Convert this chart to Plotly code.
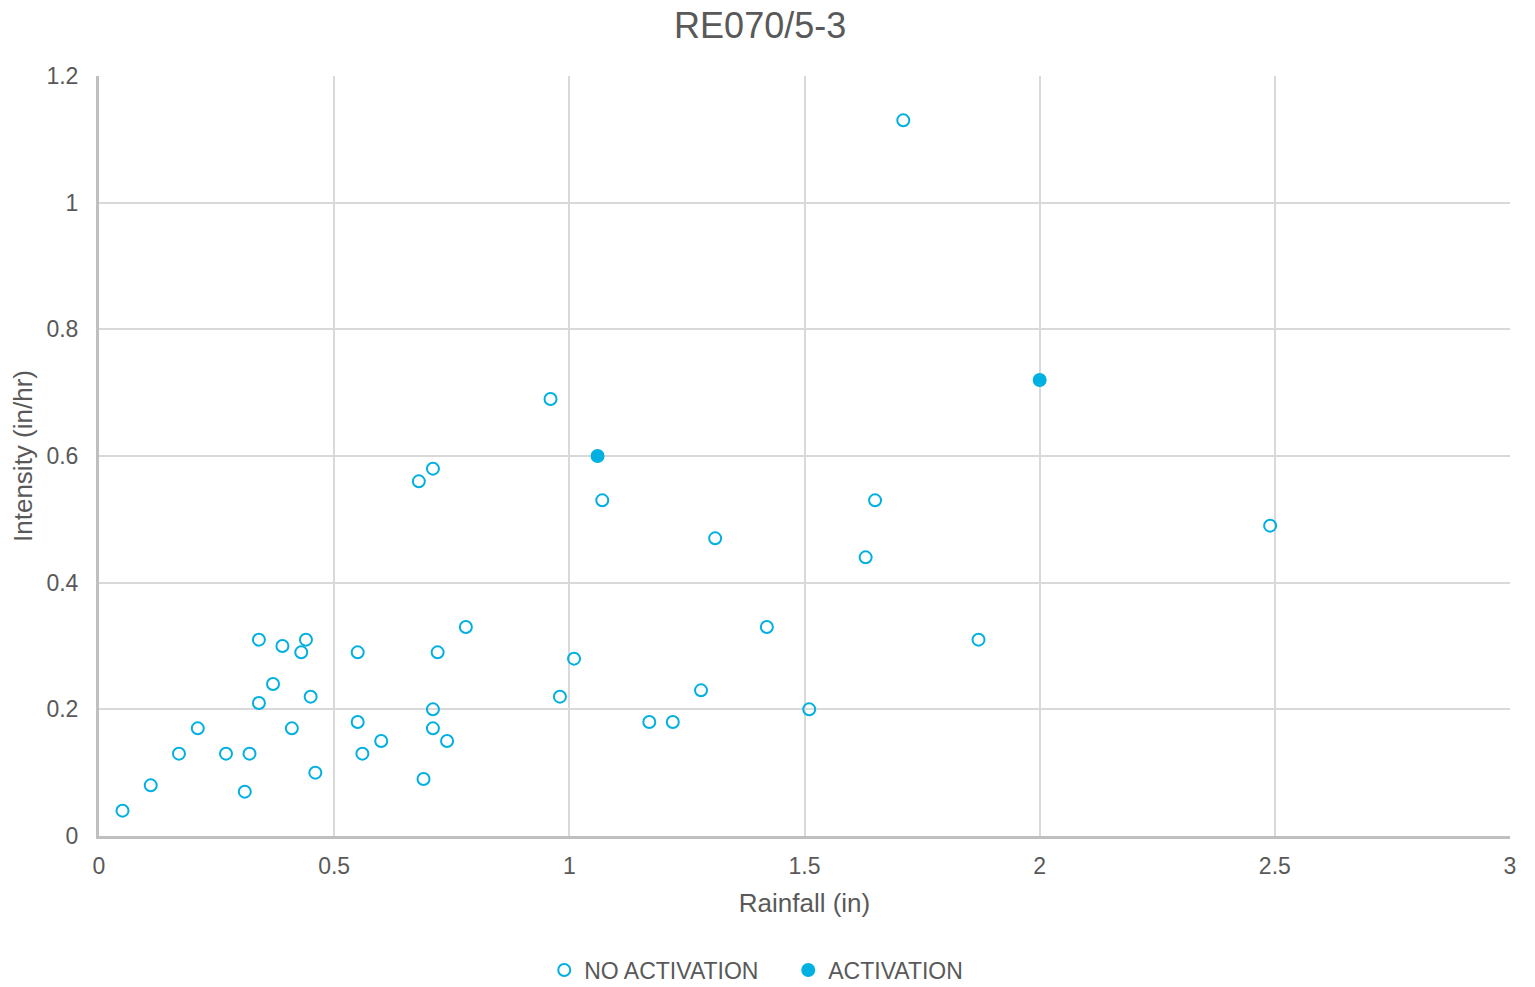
import plotly.graph_objects as go

no_act_rain = [0.05, 0.11, 0.17, 0.21, 0.27, 0.31, 0.32, 0.34, 0.34, 0.37, 0.39, 0.41, 0.43, 0.44, 0.45, 0.46,
               0.55, 0.55, 0.56, 0.60, 0.68, 0.69, 0.71, 0.71, 0.71, 0.72, 0.74, 0.78, 0.96, 0.98, 1.01, 1.07,
               1.17, 1.22, 1.28, 1.31, 1.42, 1.51, 1.63, 1.65, 1.71, 1.87, 2.49]
no_act_int = [0.04, 0.08, 0.13, 0.17, 0.13, 0.07, 0.13, 0.31, 0.21, 0.24, 0.30, 0.17, 0.29, 0.31, 0.22, 0.10,
              0.29, 0.18, 0.13, 0.15, 0.56, 0.09, 0.58, 0.20, 0.17, 0.29, 0.15, 0.33, 0.69, 0.22, 0.28, 0.53,
              0.18, 0.18, 0.23, 0.47, 0.33, 0.20, 0.44, 0.53, 1.13, 0.31, 0.49]
act_rain = [1.06, 2.00]
act_int = [0.60, 0.72]

x_ticks = [0, 0.5, 1, 1.5, 2, 2.5, 3]
y_ticks = [0, 0.2, 0.4, 0.6, 0.8, 1, 1.2]

blue = "#00B0E0"
grey_text = "#595959"
font_family = "Liberation Sans, Arial, sans-serif"

fig = go.Figure()
fig.add_trace(go.Scatter(
    x=no_act_rain, y=no_act_int, mode="markers", name="NO ACTIVATION",
    marker=dict(symbol="circle-open", size=12, color=blue, line=dict(width=2, color=blue)),
))
fig.add_trace(go.Scatter(
    x=act_rain, y=act_int, mode="markers", name="ACTIVATION",
    marker=dict(symbol="circle", size=14, color=blue, line=dict(width=0)),
))

fig.update_layout(
    width=1535, height=987,
    paper_bgcolor="white", plot_bgcolor="white",
    margin=dict(l=91, r=33, t=68, b=159, autoexpand=False),
    font=dict(family=font_family, color=grey_text, size=23),
    title=dict(text="RE070/5-3", x=0.49, xanchor="center", y=0.982, yanchor="middle",
               font=dict(size=36, color=grey_text, family=font_family)),
    showlegend=True,
    legend=dict(orientation="h", xref="container", x=0.5083, xanchor="center",
                yref="container", y=0.0253, yanchor="middle",
                font=dict(size=23, color=grey_text), itemwidth=30,
                entrywidth=199, entrywidthmode="pixels"),
    xaxis=dict(
        range=[0, 3], tickvals=x_ticks, ticktext=[str(v) for v in x_ticks],
        showgrid=True, gridcolor="#D9D9D9", gridwidth=2,
        showline=True, linecolor="#BFBFBF", linewidth=3,
        zeroline=False, ticks="outside", ticklen=7, tickcolor="rgba(0,0,0,0)",
        tickfont=dict(size=23, color=grey_text), automargin=False,
        title=dict(text="Rainfall (in)", font=dict(size=26, color=grey_text), standoff=17),
    ),
    yaxis=dict(
        range=[0, 1.2], tickvals=y_ticks, ticktext=[str(v) for v in y_ticks],
        showgrid=True, gridcolor="#D9D9D9", gridwidth=2,
        showline=True, linecolor="#BFBFBF", linewidth=3,
        zeroline=False, ticks="outside", ticklen=13, tickcolor="rgba(0,0,0,0)",
        tickfont=dict(size=23, color=grey_text), automargin=False,
        title=dict(text="Intensity (in/hr)", font=dict(size=26, color=grey_text), standoff=9),
    ),
)

fig.write_html("out.html")
